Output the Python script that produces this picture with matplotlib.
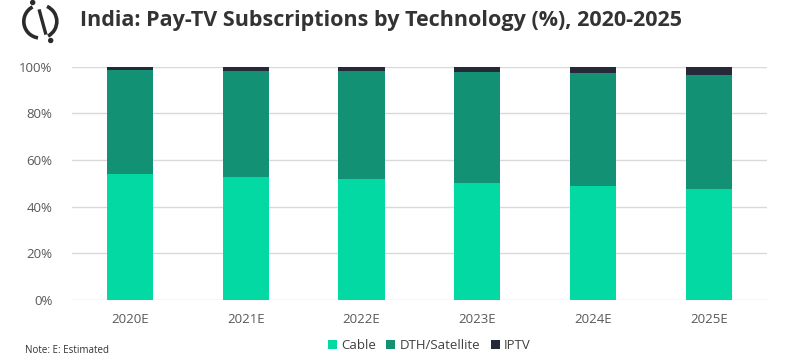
import numpy as np
import matplotlib.pyplot as plt
from matplotlib.patches import Arc, Circle

# data (share of pay-TV subscriptions, %)
years = ['2020E', '2021E', '2022E', '2023E', '2024E', '2025E']
cable = [54.0, 52.8, 51.7, 50.0, 48.8, 47.4]
dth = [44.4, 45.4, 46.2, 47.5, 48.3, 49.0]
iptv = [1.6, 1.8, 2.1, 2.5, 2.9, 3.6]

c_cable = '#03D9A2'
c_dth = '#139174'
c_iptv = '#262A38'

plt.rcParams['font.family'] = ['Open Sans', 'DejaVu Sans']

fig = plt.figure(figsize=(7.92, 3.58), dpi=100)
ax = fig.add_axes([0.091, 0.162, 0.877, 0.652])

x = np.arange(len(years))
w = 0.4
b1 = np.array(cable)
b2 = b1 + np.array(dth)
ax.bar(x, cable, w, color=c_cable, label='Cable', zorder=3)
ax.bar(x, dth, w, bottom=b1, color=c_dth, label='DTH/Satellite', zorder=3)
ax.bar(x, iptv, w, bottom=b2, color=c_iptv, label='IPTV', zorder=3)

ax.set_xlim(-0.5, 5.5)
ax.set_ylim(0, 100)
ax.set_yticks(range(0, 101, 20))
ax.set_yticklabels(['%d%%' % v for v in range(0, 101, 20)])
ax.set_xticks(x)
ax.set_xticklabels(years)
ax.grid(axis='y', color='#D9D9D9', linewidth=1, zorder=0)
for s in ax.spines.values():
    s.set_visible(False)
ax.tick_params(length=0, labelsize=9.5, labelcolor='#595959')
ax.tick_params(axis='y', pad=14)
ax.tick_params(axis='x', pad=9)

ax.legend(loc='upper center', bbox_to_anchor=(0.514, -0.116), ncol=3, frameon=False,
          fontsize=9.5, handlelength=0.7, handleheight=0.7, handletextpad=0.3,
          columnspacing=0.8, labelcolor='#404040')

fig.text(0.101, 0.944, 'India: Pay-TV Subscriptions by Technology (%), 2020-2025',
         fontsize=15.5, fontweight='bold', color='#333333', va='center')
fig.text(0.032, 0.0196, 'Note: E: Estimated', fontsize=7, color='#333333', va='center')

# logo (pixel coords)
lx, ly = 40.3, 336.5
ink = '#2B2B2B'
fig.patches.append(Arc((lx, ly), 33, 33, theta1=118, theta2=262, lw=2.6,
                       color=ink, transform=None))
fig.patches.append(Arc((lx, ly), 33, 33, theta1=-62, theta2=66, lw=2.6,
                       color=ink, transform=None))
fig.lines.append(plt.Line2D([39.5, 45.5], [347, 325], lw=2.4, color=ink, transform=None))
fig.patches.append(Circle((32.7, 355.5), 2.0, color=ink, transform=None))
fig.patches.append(Circle((50.7, 317.5), 2.0, color=ink, transform=None))

fig.savefig('out.png', dpi=100)
